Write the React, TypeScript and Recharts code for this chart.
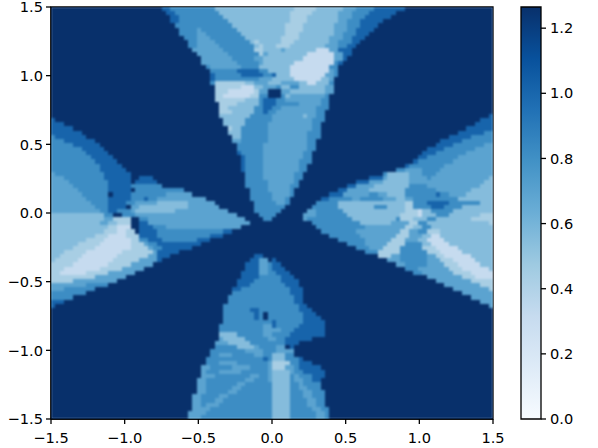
import React from "react";
import { ScatterChart, Scatter, XAxis, YAxis, ReferenceArea, BarChart, Bar } from "recharts";

const AXIS_TICKS = [-1.5, -1, -0.5, 0, 0.5, 1, 1.5];
const BAR_TICKS = [0, 0.2, 0.4, 0.6, 0.8, 1.0, 1.2];
const MAX_VALUE = 1.265;
const LEVEL_VALUES: Record<string, number> = { a: 1.27, b: 1.02, c: 0.81, d: 0.7, e: 0.55, f: 0.42, g: 0.31 };
const LEVEL_COLORS: Record<string, string> = {
  a: "#08306b", b: "#1764ab", c: "#3d8dc4", d: "#5ba3d0", e: "#85bcdc", f: "#a8cee4", g: "#c6dbef",
};
const BLUES = ["#f7fbff", "#deebf7", "#c6dbef", "#9ecae1", "#6baed6", "#4292c6", "#2171b5", "#08519c", "#08306b"];
const GRID_COLUMNS = 100;
const CELL = 0.03;

// Each row: "<column><level>" tokens, each level running until the next token; rows start in level a.
const ROWS = [
  "25b 27c 37e 55f 60e 66d 69c 73b 80a",
  "26b 28c 38e 54f 59e 65d 68c 72b 78a",
  "27b 29c 39e 54f 58e 65d 68c 71b 77a",
  "27b 29c 40e 54f 58e 65d 67c 70b 75a",
  "28c 41e 53f 57e 64d 67c 70b 74a",
  "29c 33d 34c 42e 53f 57e 64d 67c 69b 73a",
  "29c 33d 35c 43e 53f 56e 64d 66c 69b 72a",
  "30c 33d 36c 44e 52f 56e 63d 66c 68b 71a",
  "31c 33d 37c 45e 46f 47e 52f 55e 63d 65c 68b 70a",
  "31c 33d 38c 46e 47f 48e 51f 54e 62d 65c 67b 69a",
  "32d 39c 46f 48e 52d 53e 60g 63d 65b 68a",
  "33d 40c 47f 48d 49e 58g 64d 66b 68a",
  "34d 41c 46d 48e 57g 64d 66b 67a",
  "34d 42c 47d 48e 55g 64c 65b 66a",
  "35c 36d 43c 47e 54g 63c 65a",
  "36c 42b 47c 49e 54g 63d 64c 65a",
  "36b 37c 43b 48c 50b 51e 54g 62d 64c 65a",
  "36b 37c 47d 50e 55g 61e 63d 64a",
  "36c 37f 44e 46d 49e 52d 56e 58g 60e 63c 64a",
  "37f 43g 46e 48d 51c 52e 54c 56e 62d 64a",
  "37f 40g 46f 47d 49a 52d 54e 62d 64a",
  "37f 39g 45f 47c 49a 52c 53e 54d 62c 63a",
  "37f 44e 47c 48b 51c 53d 61c 63a",
  "38f 42e 47c 48b 51c 56d 61c 63a",
  "38f 40e 46c 48b 50c 52d 60c 63a",
  "38f 41e 46c 48b 49c 51d 60c 62a",
  "38e 45c 50d 57e 58d 60c 62a 99b",
  "0b 1a 39e 44c 50d 59c 62a 97b",
  "0b 3a 39e 44c 49d 59c 61a 96b",
  "0b 5a 40f 41e 43c 49d 59c 61a 94b",
  "0b 7a 40e 43c 49d 58c 61a 92b 98c",
  "0c 1b 8a 41e 43c 49d 58c 61a 90b 95c",
  "0c 3b 10a 41d 43c 49d 58c 60a 88b 93c",
  "0c 5b 11a 42c 48d 58c 60a 87b 91c 98d",
  "0c 7b 12a 42c 48d 58c 60a 85b 89c 96d",
  "0c 8b 13a 42b 43c 48d 57c 59a 84b 87c 94d",
  "0c 9b 14a 43b 44c 48d 57c 59a 83b 85c 92d",
  "0c 10b 15a 43b 44c 48d 56c 59a 82b 83c 91d",
  "0c 11b 16a 43b 44c 48d 56c 58a 80b 81c 89d",
  "0c 11b 17a 43b 44c 48d 56c 58a 78c 80d 84c 88d",
  "0d 1c 12b 18a 44c 48d 55c 57a 75c 76e 81d 84c 87d",
  "0d 3c 12b 18a 20b 23a 44c 48d 55c 57a 72b 75d 76e 81d 85c 86d 99e",
  "0d 4c 13b 18a 19b 24a 44c 49d 55c 56a 69b 72d 75e 81d 98e",
  "0d 5c 13b 18c 25a 44c 49d 54c 56a 67b 69d 73e 81c 85d 97e",
  "0d 6c 13b 18a 19c 30a 45c 49d 54c 55a 65b 67d 72e 80c 87d 95e",
  "0d 7c 13a 14b 18c 26d 32a 45c 50d 54c 55a 63b 66d 72c 74d 76e 80c 87b 88c 90d 94e",
  "0d 8c 13b 18c 21b 22c 24d 35a 45c 50d 53c 54a 61b 63c 68d 70c 75d 78e 80d 82c 92e",
  "0d 9c 13b 17c 19d 24e 31d 37a 46c 51d 53c 54a 60c 65e 80f 82c 85b 90c 97e",
  "0d 10c 13b 17a 18d 20e 31d 38a 46c 53a 59c 65e 73c 76e 80f 82c 86b 89c 93e",
  "0d 11c 13b 15c 18d 19e 28d 40a 46c 52a 58d 60c 66e 80f 83g 84e 86c 91e",
  "0e 12c 14a 16c 19d 42a 47c 51a 57d 60c 67e 79f 83g 84e 87c 90e 97f",
  "0e 12d 14f 18a 20c 22d 44a 48c 50a 57d 58c 68e 78c 79f 82e 85c 87e 95f",
  "0e 11d 13e 15f 18a 20b 22d 45a 59c 70e 77d 81f 83c 85e 99f",
  "0e 13f 15g 18a 20b 23c 26d 43a 60c 71d 80f 82e 84c 86e",
  "0e 12f 15g 17f 19a 20b 24c 39b 41a 61c 69d 79f 81d 83c 85f 88e",
  "0e 10f 13g 17f 20b 24c 36b 39a 63c 70d 78f 81d 84e 86g 88e",
  "0e 8f 12g 18f 20c 22b 25c 33b 36a 65c 71d 77f 80d 83e 85g 89e",
  "0e 6f 11g 18f 21d 22c 24b 34a 67c 71d 76f 80c 84e 86g 90e",
  "0e 5f 10g 18f 22d 23c 25b 32a 69c 72d 75f 79c 84f 87g 92e",
  "0e 3f 8g 16f 23d 24b 29a 71c 74f 79c 85f 88g 93e",
  "0e 2f 7g 15f 22d 24b 27a 46b 48a 74f 77d 79c 85d 87f 89g 95e",
  "0e 1f 6g 14f 20d 24b 25a 45b 47d 49a 50b 51a 76d 79c 85d 88f 91g 96e",
  "0f 5g 13f 18d 23a 44b 47d 49c 50b 52a 78d 80c 85d 89f 92g 97e",
  "0f 3g 11f 16d 21a 44b 47d 49c 50b 53a 80c 83d 90f 93g 99e",
  "0f 2g 8f 13d 19a 43b 47d 49c 51b 54a 82c 84d 91f 95g",
  "0f 10d 17a 43b 47c 52b 55a 85d 93f 96g",
  "0f 5d 15a 42b 46c 52b 56a 87d 95f",
  "0d 8c 13a 42b 45c 53b 56a 89d 97f",
  "0d 3c 10a 41b 43c 54b 57a 91d 99f",
  "0c 8a 41c 54b 57a 93d",
  "0c 5a 40c 55b 57a 95d",
  "0b 3a 40c 55b 57a 97d",
  "0b 1a 39c 56b 58a 99d",
  "39c 45b 47c 56b 59a",
  "39c 46b 47c 48a 49c 57b 60a",
  "39c 46b 47c 48a 49c 57b 61a",
  "39c 50b 51c 57b 62a",
  "38c 48d 50b 51c 56b 62a",
  "38c 48d 52c 55b 62a",
  "38e 42c 48d 50c 54b 62a",
  "38d 39e 44c 49d 51c 53b 59a",
  "37d 40e 45c 53b 56a",
  "37c 42e 46d 47c 51d 53a 54b 55a",
  "36c 44d 48c 51d 55a",
  "36c 38d 41c 46d 48c 50e 53c 55a",
  "35c 48b 49c 50e 53c 56b 57a",
  "35c 38d 42c 49d 50f 54c 56b 59a",
  "34d 36c 41d 45c 49d 50f 53d 55c 56b 61a",
  "34d 35c 38d 43c 49d 50e 54d 55c 57b 62a",
  "34d 37c 45d 47c 49d 50e 54c 55d 56c 59b 62a",
  "33d 35c 44d 46c 49d 50e 54c 55d 57c 59b 61a",
  "33d 35c 42d 44c 50e 54c 56d 57c 61a",
  "33d 35c 41d 43c 50e 54c 56d 58c 61a",
  "33d 35c 40d 42c 50e 54c 57d 59c 62a",
  "32d 34c 38d 40c 50e 54c 57d 59c 62a",
  "32d 34c 37d 39c 50e 54c 58d 60c 62a",
  "32d 34c 35d 38c 50e 54c 58d 60c 62a",
  "32d 36c 50e 54c 59d 61c 63a",
  "31d 35c 50e 54c 60d 62c 63a",
  "31d 34c 50e 54c 60d 62c 63a",
];

type CellPoint = { x: number; y: number; v: number; level: string };

function expandRow(row: string, rowIndex: number): CellPoint[] {
  const levels: string[] = Array(GRID_COLUMNS).fill("a");
  for (const token of row.split(" ")) {
    const start = parseInt(token, 10);
    const level = token[token.length - 1];
    for (let c = start; c < GRID_COLUMNS; c++) levels[c] = level;
  }
  return levels.map((level, c) => ({
    x: -1.5 + (c + 0.5) * CELL,
    y: 1.5 - (rowIndex + 0.5) * CELL,
    v: LEVEL_VALUES[level],
    level,
  }));
}

const cells: CellPoint[] = ROWS.flatMap(expandRow);

const PLOT_W = 442;
const PLOT_H = 412;
const CELL_W = PLOT_W / GRID_COLUMNS;
const CELL_H = PLOT_H / ROWS.length;

const fmt = (v: number) => (v < 0 ? "\u2212" : "") + Math.abs(v).toFixed(1);
const tickStyle = { fontFamily: "DejaVu Sans", fontSize: 14.6, fill: "#000" };
const lineStyle = { stroke: "#000", strokeWidth: 1.3 };

function CellShape(props: any) {
  const { cx, cy, payload } = props;
  const left = Math.round(cx - CELL_W / 2);
  const right = Math.round(cx + CELL_W / 2);
  const top = Math.round(cy - CELL_H / 2);
  const bottom = Math.round(cy + CELL_H / 2);
  return (
    <rect
      x={left}
      y={top}
      width={right - left}
      height={bottom - top}
      fill={LEVEL_COLORS[payload.level]}
      shapeRendering="crispEdges"
    />
  );
}

export default function App() {
  return (
    <div style={{ position: "absolute", left: 0, top: 0, width: 598, height: 448, background: "#fff" }}>
      <style>{".recharts-scatter{filter:blur(0.8px)}"}</style>
      <div style={{ position: "absolute", left: 0, top: 0 }}>
        <ScatterChart width={520} height={448} margin={{ top: 7, right: 27, bottom: 0, left: 0 }}>
          <Scatter data={cells} isAnimationActive={false} shape={CellShape} />
          <XAxis
            type="number"
            dataKey="x"
            domain={[-1.5, 1.5]}
            ticks={AXIS_TICKS}
            tickFormatter={fmt}
            height={29}
            tick={tickStyle}
            tickSize={5}
            tickMargin={9}
            axisLine={lineStyle}
            tickLine={lineStyle}
            allowDataOverflow
            interval={0}
          />
          <YAxis
            type="number"
            dataKey="y"
            domain={[-1.5, 1.5]}
            ticks={AXIS_TICKS}
            tickFormatter={fmt}
            width={51}
            tick={tickStyle}
            tickSize={5}
            tickMargin={3}
            axisLine={lineStyle}
            tickLine={lineStyle}
            allowDataOverflow
            interval={0}
          />
          <ReferenceArea x1={-1.5} x2={1.5} y1={-1.5} y2={1.5} fill="none" stroke="#000" strokeWidth={1.3} />
        </ScatterChart>
      </div>
      <div style={{ position: "absolute", left: 500, top: 0 }}>
        <BarChart
          width={98}
          height={448}
          data={[{ name: "scale", v: MAX_VALUE }]}
          margin={{ top: 7, right: 0, bottom: 29, left: 21 }}
          barCategoryGap={0}
        >
          <defs>
            <linearGradient id="blues" x1="0" y1="1" x2="0" y2="0">
              {BLUES.map((c, i) => (
                <stop key={c} offset={i / (BLUES.length - 1)} stopColor={c} />
              ))}
            </linearGradient>
          </defs>
          <XAxis dataKey="name" hide />
          <YAxis
            orientation="right"
            type="number"
            domain={[0, MAX_VALUE]}
            ticks={BAR_TICKS}
            tickFormatter={(v: number) => v.toFixed(1)}
            width={57}
            tick={tickStyle}
            tickSize={5}
            tickMargin={4}
            axisLine={false}
            tickLine={lineStyle}
            interval={0}
          />
          <Bar dataKey="v" fill="url(#blues)" stroke="#000" strokeWidth={1.3} isAnimationActive={false} />
        </BarChart>
      </div>
    </div>
  );
}
